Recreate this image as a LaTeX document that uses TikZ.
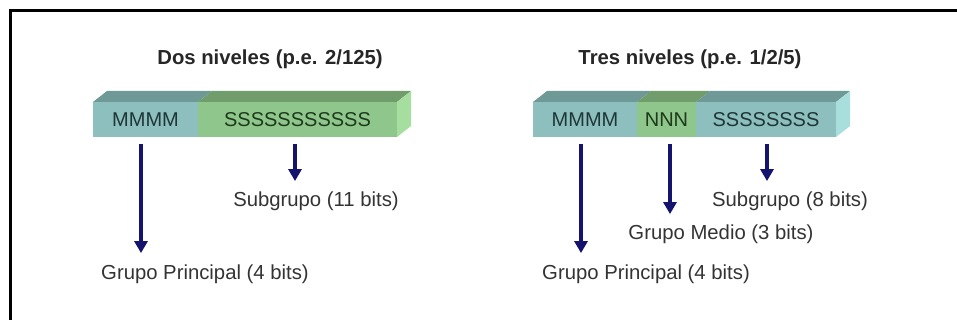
\documentclass[tikz,border=0pt]{standalone}
\usepackage{fontspec}
\setmainfont{Liberation Sans}
\usetikzlibrary{arrows.meta,positioning}
% colours of the bit fields
\definecolor{azfront}{HTML}{8CBFBE}
\definecolor{aztop}{HTML}{6F9997}
\definecolor{azside}{HTML}{A8DEDC}
\definecolor{vdfront}{HTML}{8FC68B}
\definecolor{vdtop}{HTML}{719D6D}
\definecolor{vdside}{HTML}{A6DE9F}
\definecolor{bartxt}{HTML}{1F3636}
\definecolor{vdtxt}{HTML}{1E3A1C}
\definecolor{marino}{HTML}{14146E}
\definecolor{gris}{HTML}{333333}
\begin{document}
\begin{tikzpicture}[x=1pt,y=-1pt,line cap=round,
 seg/.style={minimum height=35pt,inner sep=0pt,outer sep=0pt,anchor=west,
  text=bartxt,font=\fontsize{20}{24}\selectfont},
 campoM/.style={seg,fill=azfront},
 campoS/.style={seg,fill=vdfront,text=vdtxt},
 titulo/.style={anchor=base,inner sep=0pt,text=black!85,font=\bfseries\fontsize{20.3}{24}\selectfont},
 etiq/.style={anchor=base,inner sep=0pt,text=gris,font=\fontsize{20.3}{24}\selectfont},
 flecha/.style={-{Triangle[width=13pt,length=12pt]},line width=4pt,draw=marino,line cap=butt,shorten >=11pt}]
 \useasboundingbox (0,0) rectangle (957,320);
 % marco
 \draw[line width=3pt,line cap=butt] (10,320) -- (10,11) -- (957,11);

 \node[titulo] (tA) at (270,65) {Dos niveles (p.e. 2/125)};
 \node[titulo] (tB) at (690,65) {Tres niveles (p.e. 1/2/5)};

 % dos niveles
 \node[campoM,minimum width=105pt] (mmA) at (93,119.5) {MMMM};
 \node[campoS,minimum width=199pt,right=0pt of mmA] (ssA) {SSSSSSSSSSS};
 \fill[aztop] (mmA.north west) -- ++(14,-11) -- ([shift={(14,-11)}]mmA.north east) -- (mmA.north east) -- cycle;
 \fill[vdtop] (ssA.north west) -- ++(14,-11) -- ([shift={(14,-11)}]ssA.north east) -- (ssA.north east) -- cycle;
 \fill[vdside] (ssA.north east) -- ++(14,-11) -- ++(0,35) -- (ssA.south east) -- cycle;

 % tres niveles
 \node[campoM,minimum width=104pt] (mmB) at (533,119.5) {MMMM};
 \node[campoS,minimum width=59pt,right=0pt of mmB] (nnB) {NNN};
 \node[campoM,minimum width=140pt,right=0pt of nnB] (ssB) {SSSSSSSS};
 \fill[aztop] (mmB.north west) -- ++(14,-11) -- ([shift={(14,-11)}]mmB.north east) -- (mmB.north east) -- cycle;
 \fill[vdtop] (nnB.north west) -- ++(14,-11) -- ([shift={(14,-11)}]nnB.north east) -- (nnB.north east) -- cycle;
 \fill[aztop] (ssB.north west) -- ++(14,-11) -- ([shift={(14,-11)}]ssB.north east) -- (ssB.north east) -- cycle;
 \fill[azside] (ssB.north east) -- ++(14,-11) -- ++(0,35) -- (ssB.south east) -- cycle;

 \node[etiq] (gpA) at (205,279) {Grupo Principal (4 bits)};
 \node[etiq] (sgA) at (316,207) {Subgrupo (11 bits)};
 \node[etiq] (gpB) at (646,279) {Grupo Principal (4 bits)};
 \node[etiq] (gmB) at (721,240) {Grupo Medio (3 bits)};
 \node[etiq] (sgB) at (790,207) {Subgrupo (8 bits)};

 \foreach \a/\b/\dx in {mmA/gpA/-4.5, ssA/sgA/-2.5, mmB/gpB/-4, nnB/gmB/3.5, ssB/sgB/1}{
  \coordinate (s) at ([xshift=\dx pt,yshift=-7pt]\a.south);
  \draw[flecha] (s) -- (s |- \b.north);
 }
\end{tikzpicture}
\end{document}
